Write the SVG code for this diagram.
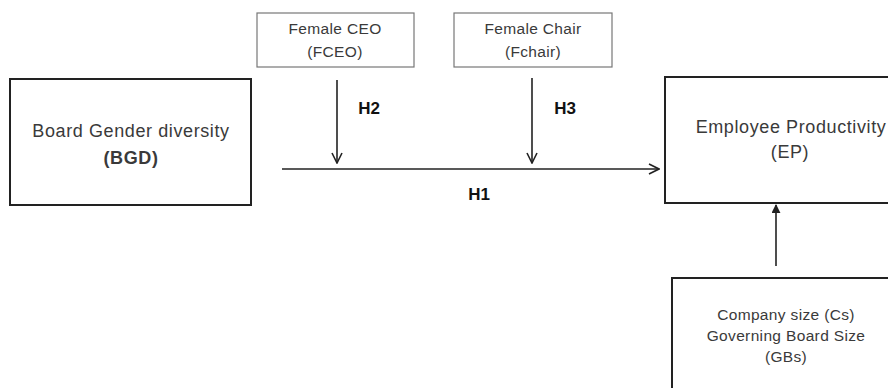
<svg xmlns="http://www.w3.org/2000/svg" width="888" height="388" viewBox="0 0 888 388">
<style>
.t{font-family:"Liberation Sans",Arial,sans-serif;fill:#3a3a3a;text-anchor:middle}
.big{font-size:18px;letter-spacing:0.6px}
.sm{font-size:15.5px;letter-spacing:0.35px}
.b{font-family:"Liberation Sans",Arial,sans-serif;font-weight:bold;font-size:17px;fill:#111;text-anchor:middle}
.thick{fill:#fff;stroke:#222;stroke-width:2}
.thin{fill:#fff;stroke:#777;stroke-width:1.2}
.ln{stroke:#222;stroke-width:1.6;fill:none}
</style>
<defs>
<marker id="v" viewBox="0 0 12 12" refX="11" refY="6" markerWidth="12" markerHeight="12" markerUnits="userSpaceOnUse" orient="auto">
<path d="M1,1 L11,6 L1,11" fill="none" stroke="#222" stroke-width="1.6"/>
</marker>
<marker id="f" viewBox="0 0 10 10" refX="9" refY="5" markerWidth="9" markerHeight="9" markerUnits="userSpaceOnUse" orient="auto">
<path d="M0,0 L10,5 L0,10 Z" fill="#222"/>
</marker>
</defs>
<rect width="888" height="388" fill="#fff"/>
<g id="connectors">
<line class="ln" x1="282" y1="169" x2="659" y2="169" marker-end="url(#v)"/>
<line class="ln" x1="337" y1="80" x2="337" y2="163" marker-end="url(#v)"/>
<line class="ln" x1="532" y1="78" x2="532" y2="163" marker-end="url(#v)"/>
<line class="ln" x1="776" y1="266" x2="776" y2="205" marker-end="url(#f)"/>
<text class="b" x="369" y="114">H2</text>
<text class="b" x="565" y="114">H3</text>
<text class="b" x="479" y="200">H1</text>
</g>
<g id="bgd">
<rect class="thick" x="10" y="79" width="241" height="126"/>
<text class="t big" x="131" y="137">Board Gender diversity</text>
<text class="t big" x="131" y="164" style="font-weight:bold">(BGD)</text>
</g>
<g id="fceo">
<rect class="thin" x="257" y="13" width="157" height="54"/>
<text class="t sm" x="335" y="34">Female CEO</text>
<text class="t sm" x="335" y="57">(FCEO)</text>
</g>
<g id="fchair">
<rect class="thin" x="454" y="13" width="158" height="54"/>
<text class="t sm" x="533" y="34">Female Chair</text>
<text class="t sm" x="533" y="57">(Fchair)</text>
</g>
<g id="ep">
<rect class="thick" x="665" y="77" width="260" height="126"/>
<text class="t big" x="791" y="133">Employee Productivity</text>
<text class="t big" x="790" y="158">(EP)</text>
</g>
<g id="controls">
<rect class="thick" x="672" y="278" width="260" height="130"/>
<text class="t sm" x="786" y="320">Company size (Cs)</text>
<text class="t sm" x="786" y="341">Governing Board Size</text>
<text class="t sm" x="786" y="362">(GBs)</text>
</g>
</svg>
